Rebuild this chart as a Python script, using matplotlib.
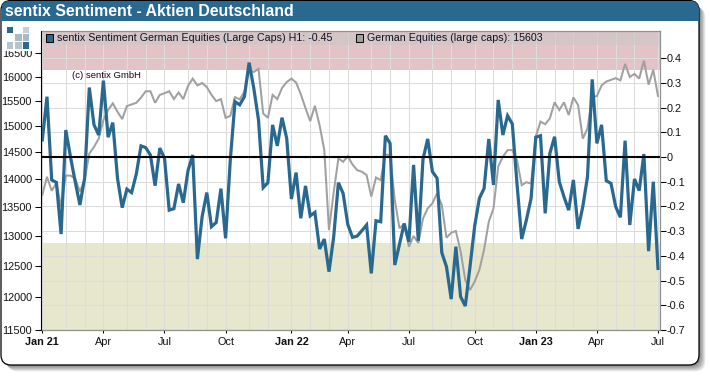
import matplotlib
matplotlib.use("Agg")
import matplotlib.pyplot as plt
import matplotlib.dates as mdates
import pandas as pd
from matplotlib.patches import FancyBboxPatch, Rectangle

plt.rcParams['font.family'] = ['Liberation Sans', 'DejaVu Sans']

sentiment = [0.069,0.244,-0.093,-0.103,-0.312,0.109,0.0,-0.1,-0.194,-0.086,0.281,0.13,0.089,0.309,0.08,0.139,
 -0.086,-0.205,-0.13,-0.144,-0.069,0.045,0.038,0.008,-0.116,0.036,-0.005,-0.215,-0.209,-0.109,-0.185,-0.055,0.008,
 -0.413,-0.242,-0.144,-0.282,-0.265,-0.128,-0.329,-0.012,0.224,0.211,0.244,0.382,0.278,0.15,-0.124,-0.104,0.13,0.045,
 0.159,0.076,-0.17,-0.063,-0.248,-0.117,-0.238,-0.224,-0.372,-0.332,-0.464,-0.323,-0.104,-0.147,-0.273,-0.325,
 -0.32,-0.298,-0.275,-0.471,-0.258,-0.262,0.086,0.055,-0.437,-0.352,-0.269,-0.343,-0.032,-0.339,-0.009,0.073,-0.059,
 -0.086,-0.387,-0.444,-0.575,-0.363,-0.565,-0.603,-0.444,-0.279,-0.167,-0.127,0.073,-0.113,0.231,0.089,0.167,0.134,
 -0.107,-0.332,-0.255,-0.167,0.08,0.086,-0.228,0.015,0.082,-0.1,-0.161,-0.215,-0.093,-0.291,-0.201,-0.08,0.314,0.055,
 0.13,-0.096,-0.107,-0.201,-0.244,0.066,-0.275,-0.089,-0.136,0.012,-0.381,-0.1,-0.451]
equities = [13714,14043,13790,13930,13505,14065,14065,14012,13775,13980,14475,14600,14760,15120,15320,15455,
 15285,15140,15400,15432,15465,15570,15700,15700,15465,15625,15660,15700,15540,15675,15540,15810,15960,
 15820,15870,15785,15625,15500,15540,15165,15205,15580,15535,15690,16145,16100,16165,15250,15165,15625,15540,
 15765,15890,15960,15880,15640,15360,15100,15405,15020,14540,13100,13760,14385,14320,14425,14270,
 14165,14135,14075,13685,14030,13980,14460,14445,13625,13130,13210,12820,13000,12880,13300,13475,13565,
 13745,13535,12970,13055,13085,12740,12275,12115,12250,12440,12770,13245,13475,14230,14415,14540,14540,
 14355,13890,13945,13920,14800,15090,15040,15155,15475,15320,15475,15220,15575,15420,14760,14955,15590,15600,
 15820,15900,15935,15970,15925,16270,15995,16060,15960,16340,15835,16145,15603]
dates = pd.date_range('2021-01-01', periods=len(sentiment), freq='7D')
price_ticks = [11500,12000,12500,13000,13500,14000,14500,15000,15500,16000,16500]
sent_ticks = [-0.7,-0.6,-0.5,-0.4,-0.3,-0.2,-0.1,0,0.1,0.2,0.3,0.4]
sent_labels = ['-0.7','-0.6','-0.5','-0.4','-0.3','-0.2','-0.1','0','0.1','0.2','0.3','0.4']
quarter_labels = ['Jan 21','Apr','Jul','Oct','Jan 22','Apr','Jul','Oct','Jan 23','Apr','Jul']
title = 'sentix Sentiment - Aktien Deutschland'
legend_a = 'sentix Sentiment German Equities (Large Caps) H1: -0.45'
legend_b = 'German Equities (large caps): 15603'

BLUE = '#29698f'; W, H = 710, 376
FS = 7.85
fig = plt.figure(figsize=(W/100, H/100), dpi=100, facecolor='white')

# chrome in pixel coordinates
chrome = fig.add_axes([0, 0, 1, 1], zorder=0); chrome.set_xlim(0, W); chrome.set_ylim(H, 0); chrome.axis('off')
for k in range(8, 0, -1):
    chrome.add_patch(FancyBboxPatch((1+k*0.8, 1+k*0.8), 698, 364, boxstyle='round,pad=0,rounding_size=10',
                                    fc='#000000', ec='none', alpha=0.07))
frame = FancyBboxPatch((1, 0.5), 698, 364.5, boxstyle='round,pad=0,rounding_size=10', fc='white', ec='black', lw=0.9)
chrome.add_patch(frame)
head = FancyBboxPatch((1, 0.5), 698, 364.5, boxstyle='round,pad=0,rounding_size=10', fc=BLUE, ec='none')
chrome.add_patch(head)
head.set_clip_path(Rectangle((1.5, 1), 697, 20, transform=chrome.transData))
chrome.text(5, 11, title, color='white', fontsize=11.45, fontweight='bold', va='center', ha='left')

L, R, T, B = 42.3, 660, 30.7, 330
pos = [L/W, 1-B/H, (R-L)/W, (B-T)/H]
xlim = (mdates.date2num(dates[0]), mdates.date2num(dates[0]) + 920)
slim = (-0.7, 0.511)
plim = (11500, 16990)

month_first = pd.Series(dates).groupby([dates.year, dates.month]).first().tolist()
quarter_first = [d for d in month_first if d.month in (1, 4, 7, 10)]

bg = fig.add_axes(pos, zorder=1, facecolor='white')
bg.set_xlim(xlim); bg.set_ylim(slim)
bg.axhspan(0.35, slim[1], color='#e4c3c6', lw=0, zorder=0)
bg.axhspan(slim[0], -0.35, color='#e6e7cd', lw=0, zorder=0)
bg.set_xticks(month_first); bg.set_yticks(sent_ticks)
bg.grid(True, color='#dcdcdc', lw=0.75); bg.set_axisbelow(False)
bg.tick_params(length=0, labelleft=False, labelbottom=False)
for s in bg.spines.values():
    s.set_visible(False)

pa = fig.add_axes(pos, zorder=2, facecolor='none')
pa.set_yscale('log'); pa.set_xlim(xlim); pa.set_ylim(plim)
pa.plot(dates, equities, color='#a0a0a0', lw=1.45, solid_joinstyle='miter')
pa.set_yticks(price_ticks); pa.set_yticklabels([str(p) for p in price_ticks])
pa.minorticks_off(); pa.set_xticks([])
pa.tick_params(axis='y', length=4, width=0.75, color='black', labelsize=FS, pad=2.2, labelcolor='#111111')
for n in ('top', 'right', 'bottom'):
    pa.spines[n].set_visible(False)
pa.spines['left'].set_position(('outward', 1.2)); pa.spines['left'].set_linewidth(0.8)

sa = fig.add_axes(pos, zorder=3, facecolor='none')
sa.set_xlim(xlim); sa.set_ylim(slim)
sa.plot(dates, sentiment, color=BLUE, lw=2.3, solid_joinstyle='miter')
sa.axhline(0, color='black', lw=1.5, clip_on=False)
sa.yaxis.tick_right()
sa.set_yticks(sent_ticks); sa.set_yticklabels(sent_labels)
sa.set_xticks(quarter_first); sa.set_xticklabels(quarter_labels)
for lab, txt in zip(sa.get_xticklabels(), quarter_labels):
    if txt.startswith('Jan'):
        lab.set_fontweight('bold')
sa.tick_params(axis='y', length=4, width=0.75, color='black', labelsize=FS, pad=1, labelcolor='#111111')
sa.tick_params(axis='x', length=2.5, width=0.75, color='black', labelsize=FS, pad=2.8, labelcolor='#111111')
for n in ('top', 'left'):
    sa.spines[n].set_visible(False)
for n in ('right', 'bottom'):
    sa.spines[n].set_color('#909090'); sa.spines[n].set_linewidth(0.9)

# overlay: legend strip, logo, copyright
top = fig.add_axes([0, 0, 1, 1], zorder=4, facecolor='none'); top.set_xlim(0, W); top.set_ylim(H, 0); top.axis('off')
top.add_patch(Rectangle((L, T), R-L, 14, fc='#c8c8c8', ec='none', alpha=0.5))
top.plot([L, R], [T, T], color='#909090', lw=0.9)
top.add_patch(Rectangle((45.5, 34), 7.5, 7.5, fc=BLUE, ec='black', lw=0.7))
top.add_patch(Rectangle((355.5, 34), 7.5, 7.5, fc='#a0a0a0', ec='black', lw=0.7))
top.text(57, 38, legend_a, fontsize=7.7, va='center', ha='left', color='#111122')
top.text(367, 38, legend_b, fontsize=7.7, va='center', ha='left', color='#111122')
top.text(72.5, 76, '(c) sentix GmbH', fontsize=6.8, va='center', ha='left', color='#220022')
top.add_patch(Rectangle((3, 24), 37, 26.5, fc='white', ec='none'))
logo = [(6.7,26.7,BLUE),(22.7,26.7,'#c4ced4'),(15,34.3,'#a9bac5'),(22.7,34.3,'#a9bac5'),
        (6.7,42.3,'#b5c4ce'),(15,42.3,'#b5c4ce'),(22.7,42.3,BLUE)]
for x, y, c in logo:
    top.add_patch(Rectangle((x, y), 6.7, 6.7, fc=c, ec='none'))

fig.savefig('out.png', dpi=100)
